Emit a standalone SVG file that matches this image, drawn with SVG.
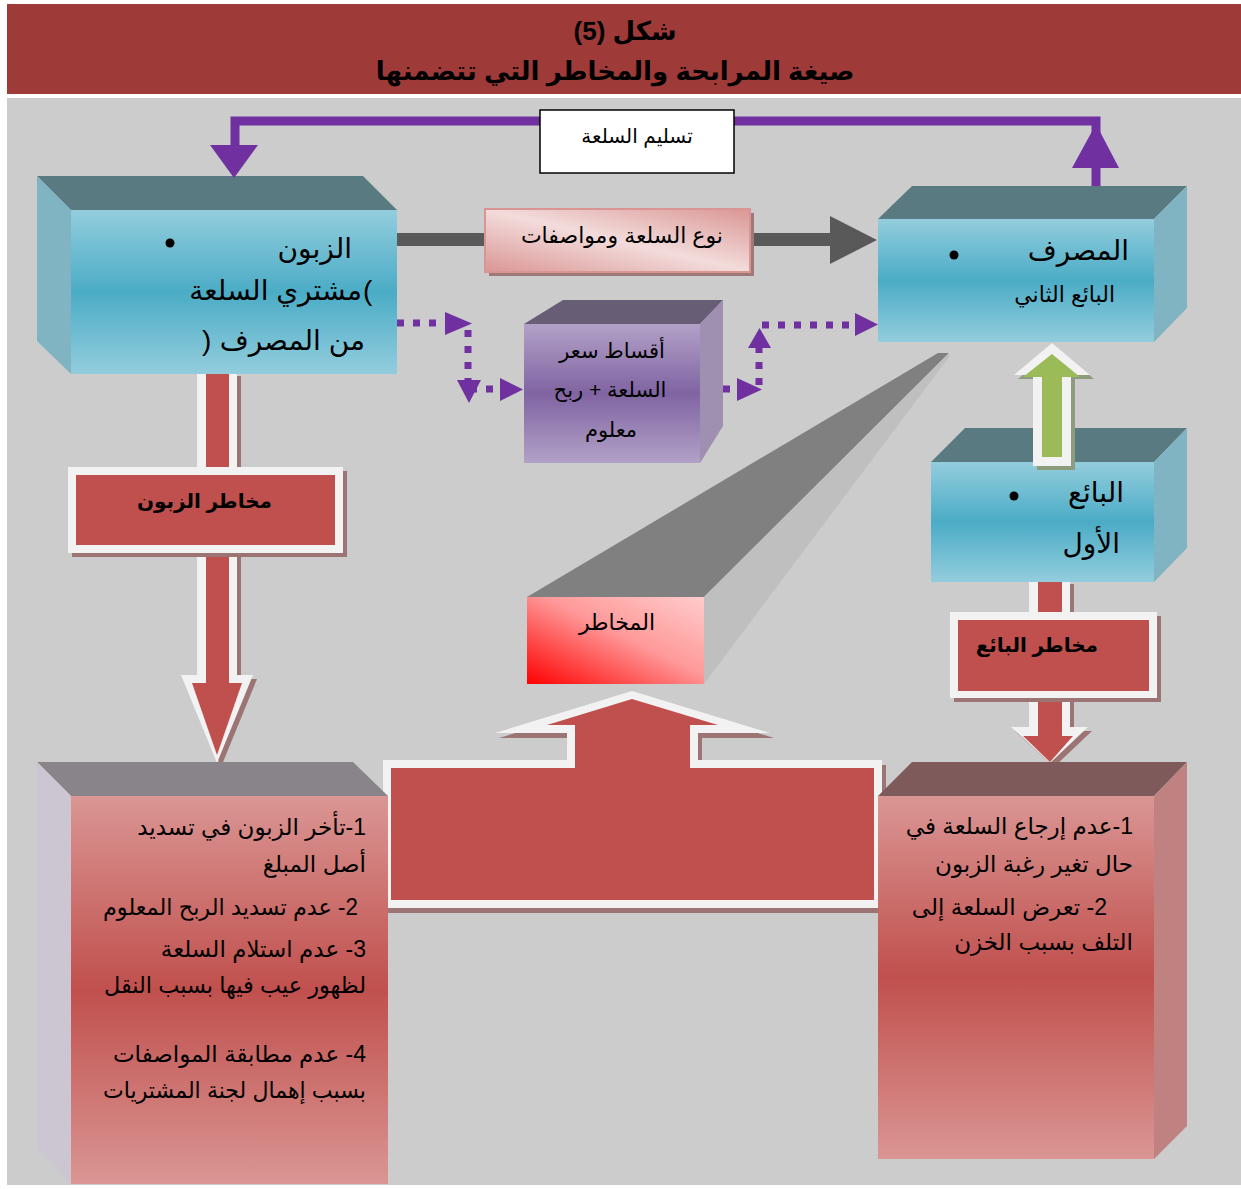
<svg xmlns="http://www.w3.org/2000/svg" width="1241" height="1189" viewBox="0 0 1241 1189">
  <defs>
    <style>
      .t { font-family: "Liberation Sans", "DejaVu Sans", sans-serif; fill: #000; }
      .rtl { direction: rtl; unicode-bidi: embed; }
      .title { font-size: 26px; font-weight: bold; }
      .big { font-size: 28px; }
      .mid { font-size: 22px; }
      .list { font-size: 23px; }
      .bold { font-size: 20px; font-weight: bold; }
      .purple { fill: #7030A0; }
      .dots { fill: none; stroke: #7030A0; stroke-width: 7; stroke-dasharray: 7 9; }
      .halo { fill: #F2F2F2; }
      .redfill { fill: #C0504D; }
      .shadow { fill: #9C7474; }
    </style>
    <linearGradient id="gBlue" x1="0" y1="0" x2="0" y2="1">
      <stop offset="0" stop-color="#93CDDD"/>
      <stop offset="0.5" stop-color="#4BACC6"/>
      <stop offset="1" stop-color="#93CDDD"/>
    </linearGradient>
    <linearGradient id="gPurple" x1="0" y1="0" x2="0" y2="1">
      <stop offset="0" stop-color="#B2A1C7"/>
      <stop offset="0.5" stop-color="#8064A2"/>
      <stop offset="1" stop-color="#B2A1C7"/>
    </linearGradient>
    <linearGradient id="gRed" x1="0" y1="0" x2="0" y2="1">
      <stop offset="0" stop-color="#DA9694"/>
      <stop offset="0.5" stop-color="#C0504D"/>
      <stop offset="1" stop-color="#DA9694"/>
    </linearGradient>
    <linearGradient id="gPink" x1="0" y1="1" x2="1" y2="0">
      <stop offset="0" stop-color="#DA9694"/>
      <stop offset="0.5" stop-color="#F2DCDB"/>
      <stop offset="1" stop-color="#DA9694"/>
    </linearGradient>
    <linearGradient id="gRisk" x1="0" y1="1" x2="1" y2="0">
      <stop offset="0" stop-color="#FF0000"/>
      <stop offset="0.55" stop-color="#FF9999"/>
      <stop offset="1" stop-color="#FFCCCC"/>
    </linearGradient>
  </defs>

  <!-- page and banner -->
  <rect x="0" y="0" width="1241" height="1189" fill="#FFFFFF"/>
  <rect x="7" y="4" width="1234" height="90" fill="#9E3A38"/>
  <rect x="7" y="98" width="1234" height="1087" fill="#CCCCCC"/>

  <g id="title">
    <text class="t rtl title" x="625" y="40" text-anchor="middle" font-size="28">شكل (5)</text>
    <text class="t rtl title" x="615" y="80" text-anchor="middle">صيغة المرابحة والمخاطر التي تتضمنها</text>
  </g>

  <g id="node-customer">
    <polygon points="37,176 363,176 397,210 71,210" fill="#587A80"/>
    <polygon points="37,176 71,210 71,374 37,341" fill="#80B4C3"/>
    <rect x="71" y="210" width="326" height="164" fill="url(#gBlue)"/>
    <circle cx="170" cy="243" r="4.5" fill="#000"/>
    <text class="t rtl big" x="352" y="258" text-anchor="start">الزبون</text>
    <!-- brackets set as separate left-to-right glyphs so they keep their printed shape -->
    <text class="t big" x="363" y="300">(</text>
    <text class="t rtl big" x="362" y="300" text-anchor="start">مشتري السلعة</text>
    <text class="t big" x="202" y="350">)</text>
    <text class="t rtl big" x="365" y="350" text-anchor="start">من المصرف</text>
  </g>

  <g id="node-bank">
    <polygon points="912,186 1187,186 1154,219 878,219" fill="#587A80"/>
    <polygon points="1154,219 1187,186 1187,308 1154,342" fill="#80B4C3"/>
    <rect x="878" y="219" width="276" height="123" fill="url(#gBlue)"/>
    <circle cx="954" cy="255" r="4.5" fill="#000"/>
    <text class="t rtl big" x="1129" y="260" text-anchor="start">المصرف</text>
    <text class="t rtl mid" x="1115" y="302" text-anchor="start">البائع الثاني</text>
  </g>

  <g id="node-instalments">
    <polygon points="563,300 723,300 700,324 524,324" fill="#675D75"/>
    <polygon points="700,324 723,300 723,426 700,463" fill="#9F8FB0"/>
    <rect x="524" y="324" width="176" height="139" fill="url(#gPurple)"/>
    <text class="t rtl" font-size="21" x="612" y="358" text-anchor="middle">أقساط سعر</text>
    <text class="t rtl" font-size="21" x="610" y="397" text-anchor="middle">السلعة + ربح</text>
    <text class="t rtl" font-size="21" x="611" y="437" text-anchor="middle">معلوم</text>
  </g>

  <g id="node-seller">
    <polygon points="965,428 1187,428 1154,462 931,462" fill="#587A80"/>
    <polygon points="1154,462 1187,428 1187,548 1154,582" fill="#80B4C3"/>
    <rect x="931" y="462" width="223" height="120" fill="url(#gBlue)"/>
    <circle cx="1014" cy="496" r="4.5" fill="#000"/>
    <text class="t rtl big" x="1124" y="502" text-anchor="start">البائع</text>
    <text class="t rtl big" x="1120" y="553" text-anchor="start">الأول</text>
  </g>

  <g id="node-risks">
    <polygon points="527,597 938,353 949,353 704,597" fill="#808080"/>
    <polygon points="704,597 949,353 949,357 704,684" fill="#BFBFBF"/>
    <rect x="527" y="597" width="177" height="87" fill="url(#gRisk)"/>
    <text class="t rtl mid" x="617" y="630" text-anchor="middle">المخاطر</text>
  </g>

  <g id="connectors">
    <!-- delivery of goods: bank back to customer -->
    <path d="M235 147 V121 H1096 V186" fill="none" stroke="#7030A0" stroke-width="9"/>
    <polygon class="purple" points="210,145 258,145 234,178"/>
    <polygon class="purple" points="1072,168 1119,168 1096,124"/>

    <!-- goods type and specs: customer to bank -->
    <rect x="397" y="233" width="90" height="13" fill="#595959"/>
    <rect x="748" y="233" width="84" height="13" fill="#595959"/>
    <polygon points="830,216 877,240 830,264" fill="#595959"/>

    <!-- instalments: customer -> instalments -> bank -->
    <path class="dots" d="M397 323 H446"/>
    <polygon class="purple" points="445,312 472,323.5 445,335"/>
    <path class="dots" d="M468 330 V382"/>
    <polygon class="purple" points="457,380 481,380 469,403"/>
    <path class="dots" d="M470 389 H500"/>
    <polygon class="purple" points="500,378 523,389.5 500,401"/>

    <path class="dots" d="M723 389 H738"/>
    <polygon class="purple" points="737,378 762,389.5 737,401"/>
    <path class="dots" d="M759 385 V346"/>
    <polygon class="purple" points="748,348 771,348 759.5,328"/>
    <path class="dots" d="M762 325 H856"/>
    <polygon class="purple" points="855,313 878,324.5 855,336"/>

    <!-- first seller to bank -->
    <polygon points="1018,379 1056,347 1094,379 1075,379 1075,470 1037,470 1037,379" fill="#8E9C7E"/>
    <polygon class="halo" points="1014,375 1052,343 1090,375 1071,375 1071,466 1033,466 1033,375"/>
    <polygon points="1023,377 1052,354 1080,377 1062,377 1062,457 1042,457 1042,377" fill="#9BBB59"/>

    <!-- customer risk arrow -->
    <polygon class="shadow" points="201,376 241,376 241,679 257,679 221,767 185,679 201,679"/>
    <polygon class="halo" points="197,374 237,374 237,675 253,675 217,763 181,675 197,675"/>
    <polygon class="redfill" points="206,374 229,374 229,683 242,683 217,755 192,683 206,683"/>

    <!-- seller risk arrow -->
    <polygon class="shadow" points="1033,584 1074,584 1074,731 1092,731 1054,767 1015,731 1033,731"/>
    <polygon class="halo" points="1029,582 1070,582 1070,727 1088,727 1050,763 1011,727 1029,727"/>
    <polygon class="redfill" points="1038,582 1062,582 1062,736 1073,736 1050,762 1023,736 1038,736"/>
  </g>

  <g id="node-delivery">
    <rect x="540" y="110" width="194" height="63" fill="#FFFFFF" stroke="#000" stroke-width="1.5"/>
    <text class="t rtl" font-size="20" x="637" y="143" text-anchor="middle">تسليم السلعة</text>
  </g>

  <g id="node-goods">
    <rect x="489" y="213" width="265" height="63" fill="#A07878"/>
    <rect x="485" y="209" width="265" height="63" fill="url(#gPink)" stroke="#D99594" stroke-width="2"/>
    <text class="t rtl mid" x="723" y="243" text-anchor="start">نوع السلعة ومواصفات</text>
  </g>

  <g id="node-risk-callout">
    <polygon class="shadow" points="387,765 571,765 571,738 499,738 636,696 774,738 702,738 702,765 886,765 886,913 387,913"/>
    <polygon class="halo" points="383,760 567,760 567,733 495,733 632,691 770,733 698,733 698,760 882,760 882,908 383,908"/>
    <polygon class="redfill" points="391,768 575,768 575,725 547,725 632,699 718,725 690,725 690,768 874,768 874,900 391,900"/>
  </g>

  <g id="node-customer-risk-label">
    <rect class="shadow" x="72" y="471" width="275" height="86"/>
    <rect class="halo" x="68" y="467" width="275" height="86"/>
    <rect class="redfill" x="76" y="475" width="259" height="70"/>
    <text class="t rtl bold" x="272" y="508" text-anchor="start">مخاطر الزبون</text>
  </g>

  <g id="node-seller-risk-label">
    <rect class="shadow" x="954" y="616" width="207" height="86"/>
    <rect class="halo" x="950" y="612" width="207" height="86"/>
    <rect class="redfill" x="958" y="620" width="191" height="71"/>
    <text class="t rtl bold" x="1098" y="652" text-anchor="start">مخاطر البائع</text>
  </g>

  <g id="node-customer-risks">
    <polygon points="37,762 353,762 388,796 71,796" fill="#898489"/>
    <polygon points="37,762 71,796 71,1184 37,1148" fill="#CCC6D3"/>
    <rect x="71" y="796" width="317" height="388" fill="url(#gRed)"/>
    <text class="t rtl list" x="366" y="835" text-anchor="start">1-تأخر الزبون في تسديد</text>
    <text class="t rtl list" x="366" y="872" text-anchor="start">أصل المبلغ</text>
    <text class="t rtl list" x="358" y="915" text-anchor="start" textLength="255" lengthAdjust="spacingAndGlyphs">2- عدم تسديد الربح المعلوم</text>
    <text class="t rtl list" x="366" y="957" text-anchor="start">3- عدم استلام السلعة</text>
    <text class="t rtl list" x="366" y="993" text-anchor="start" textLength="262" lengthAdjust="spacingAndGlyphs">لظهور عيب فيها بسبب النقل</text>
    <text class="t rtl list" x="366" y="1062" text-anchor="start">4- عدم مطابقة المواصفات</text>
    <text class="t rtl list" x="366" y="1098" text-anchor="start" textLength="263" lengthAdjust="spacingAndGlyphs">بسبب إهمال لجنة المشتريات</text>
  </g>

  <g id="node-seller-risks">
    <polygon points="912,762 1187,762 1154,796 878,796" fill="#7F5A5A"/>
    <polygon points="1154,796 1187,762 1187,1126 1154,1159" fill="#BF8280"/>
    <rect x="878" y="796" width="276" height="363" fill="url(#gRed)"/>
    <text class="t rtl list" x="1133" y="834" text-anchor="start">1-عدم إرجاع السلعة في</text>
    <text class="t rtl list" x="1133" y="872" text-anchor="start">حال  تغير رغبة الزبون</text>
    <text class="t rtl list" x="1107" y="915" text-anchor="start">2- تعرض السلعة إلى</text>
    <text class="t rtl list" x="1133" y="950" text-anchor="start">التلف بسبب الخزن</text>
  </g>
</svg>
